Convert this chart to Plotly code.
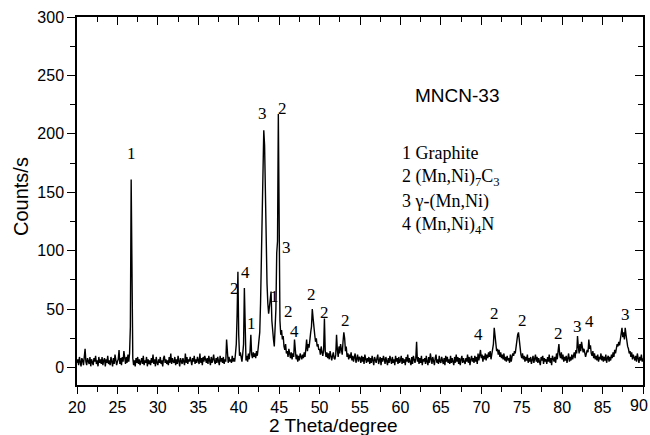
import numpy as np
import plotly.graph_objects as go

# Sampling grid of the XRD scan (2-theta, degrees)
theta_start = 20.0
theta_step = 0.1

# Intensity (counts/s), one row per degree: 20.0..20.9, 21.0..21.9, ...
counts = [
    4, 7, 2, 9, 5, 1, 8, 6, 2, 10,          # 20
    16, 5, 2, 8, 6, 3, 9, 1, 7, 4,          # 21
    2, 8, 5, 10, 3, 6, 1, 9, 4, 7,          # 22
    3, 9, 2, 6, 8, 1, 7, 4, 10, 3,          # 23
    6, 2, 9, 5, 1, 8, 3, 11, 6, 2,          # 24
    5, 7, 15, 3, 8, 2, 9, 5, 14, 6,         # 25
    3, 9, 4, 11, 5, 12, 35, 161, 45, 8,     # 26
    2, 6, 1, 8, 4, 9, 3, 7, 2, 6,           # 27
    8, 3, 10, 2, 6, 4, 9, 1, 7, 3,          # 28
    6, 2, 8, 4, 11, 3, 7, 1, 9, 4,          # 29
    2, 7, 4, 9, 3, 6, 1, 8, 10, 4,          # 30
    7, 3, 6, 2, 9, 4, 12, 3, 8, 5,          # 31
    4, 9, 2, 7, 3, 10, 5, 1, 8, 4,          # 32
    3, 8, 5, 2, 12, 4, 9, 3, 7, 5,          # 33
    9, 4, 2, 8, 5, 10, 3, 7, 4, 9,          # 34
    5, 3, 12, 4, 8, 2, 9, 5, 10, 6,         # 35
    4, 8, 3, 10, 5, 2, 9, 4, 7, 11,         # 36
    5, 3, 8, 4, 9, 6, 2, 10, 5, 8,          # 37
    4, 9, 3, 7, 5, 24, 8, 4, 9, 5,          # 38
    7, 4, 10, 5, 8, 5, 12, 20, 45, 82,      # 39
    28, 10, 13, 7, 5, 12, 20, 68, 15, 6,    # 40
    10, 5, 12, 7, 14, 28, 11, 8, 13, 9,     # 41
    12, 8, 14, 10, 16, 22, 30, 55, 95, 150, # 42
    200, 203, 190, 150, 95, 72, 55, 46, 52, 58,   # 43
    65, 40, 28, 24, 18, 30, 50, 98, 108, 217,     # 44
    60, 40, 28, 32, 24, 27, 18, 15, 20, 12, # 45
    14, 9, 16, 10, 8, 13, 7, 12, 9, 24,     # 46
    12, 7, 11, 5, 10, 6, 12, 8, 7, 11,      # 47
    8, 13, 9, 16, 24, 14, 20, 17, 26, 30,   # 48
    35, 50, 42, 30, 28, 22, 25, 18, 20, 15, # 49
    16, 11, 18, 13, 10, 15, 42, 14, 9, 13,  # 50
    8, 12, 7, 14, 10, 6, 10, 13, 8, 7,      # 51
    11, 28, 15, 9, 18, 12, 20, 16, 11, 22,  # 52
    30, 25, 14, 18, 9, 12, 7, 11, 8, 13,    # 53
    6, 10, 5, 9, 12, 4, 8, 11, 5, 9,        # 54
    8, 4, 10, 5, 9, 3, 11, 7, 4, 8,         # 55
    5, 9, 3, 8, 4, 10, 7, 2, 9, 5,          # 56
    4, 8, 11, 3, 7, 9, 2, 8, 5, 10,         # 57
    7, 3, 9, 5, 2, 8, 4, 10, 7, 3,          # 58
    9, 4, 7, 2, 10, 5, 8, 3, 9, 4,          # 59
    6, 10, 3, 8, 4, 7, 2, 9, 5, 11,         # 60
    4, 8, 5, 2, 9, 3, 10, 7, 4, 8,          # 61
    22, 5, 9, 3, 8, 4, 10, 2, 7, 5,         # 62
    8, 3, 10, 5, 2, 9, 4, 12, 7, 3,         # 63
    9, 5, 2, 8, 11, 4, 7, 3, 10, 5,         # 64
    4, 9, 7, 3, 8, 2, 10, 5, 9, 4,          # 65
    7, 3, 10, 4, 8, 5, 2, 9, 4, 11,         # 66
    5, 9, 3, 8, 2, 7, 10, 4, 8, 5,          # 67
    3, 8, 5, 11, 4, 9, 2, 7, 10, 5,         # 68
    8, 4, 10, 5, 9, 3, 12, 6, 11, 15,       # 69
    8, 11, 5, 10, 7, 12, 6, 11, 8, 13,      # 70
    9, 14, 7, 12, 15, 20, 34, 25, 18, 14,   # 71
    16, 11, 15, 9, 13, 8, 11, 7, 12, 6,     # 72
    9, 5, 10, 6, 8, 4, 11, 5, 9, 12,        # 73
    10, 14, 12, 18, 24, 28, 30, 22, 15, 11, # 74
    8, 12, 7, 10, 5, 9, 6, 11, 4, 8,        # 75
    5, 9, 3, 8, 10, 4, 7, 11, 5, 9,         # 76
    4, 8, 5, 2, 9, 6, 10, 3, 8, 5,          # 77
    7, 3, 9, 5, 11, 4, 8, 2, 10, 6,         # 78
    5, 9, 4, 12, 7, 14, 20, 11, 8, 13,      # 79
    7, 11, 5, 9, 6, 10, 4, 8, 12, 5,        # 80
    9, 6, 11, 7, 10, 13, 8, 15, 12, 27,     # 81
    18, 12, 20, 14, 22, 16, 13, 16, 11, 9,  # 82
    12, 15, 13, 24, 16, 19, 12, 10, 14, 8,  # 83
    12, 7, 10, 6, 11, 5, 9, 7, 12, 6,       # 84
    10, 5, 9, 6, 11, 4, 8, 10, 5, 9,        # 85
    6, 11, 8, 13, 9, 15, 12, 17, 20, 18,    # 86
    22, 19, 25, 28, 34, 26, 30, 24, 34, 28, # 87
    22, 18, 16, 12, 14, 9, 13, 7, 11, 8,    # 88
    6, 10, 5, 12, 7, 4, 9, 6, 11, 5,        # 89
    8,                                      # 90
]

# Phase labels over the peaks: text, 2-theta, height
peak_labels = ["1", "2", "4", "1", "3", "2", "3", "1", "2", "4", "2", "2", "2",
               "4", "2", "2", "2", "3", "4", "3"]
peak_label_x = [26.7, 39.5, 40.82, 41.56, 43.0, 45.44, 45.9, 44.38, 46.1, 46.93,
                49.0, 50.65, 53.2, 69.7, 71.6, 75.1, 79.6, 81.9, 83.35, 87.8]
peak_label_y = [183, 68, 81, 38, 217, 222, 103, 61, 48, 31,
                62.5, 47, 40, 28, 46, 40, 29, 35, 39, 45]

sample_name = "MNCN-33"
legend_lines = ["1 Graphite", "2 (Mn,Ni)<sub>7</sub>C<sub>3</sub>",
                "3 γ-(Mn,Ni)", "4 (Mn,Ni)<sub>4</sub>N"]

x_title = "2 Theta/degree"
y_title = "Counts/s"
x_range = [20, 90]
y_range = [-15, 300]
last_x_tick = "90"

two_theta = np.round(theta_start + theta_step * np.arange(len(counts)), 2)

fig = go.Figure()
fig.add_trace(go.Scatter(x=two_theta, y=counts, mode="lines",
                         line=dict(color="black", width=1.4), showlegend=False,
                         hoverinfo="skip"))
# invisible trace to activate mirrored top/right axes
fig.add_trace(go.Scatter(x=[None], y=[None], xaxis="x2", yaxis="y2",
                         mode="lines", showlegend=False, hoverinfo="skip"))

serif = "Liberation Serif, Times New Roman, serif"
sans = "Liberation Sans, Arial, sans-serif"

annotations = []
for t, xv, yv in zip(peak_labels, peak_label_x, peak_label_y):
    annotations.append(dict(x=xv, y=yv, xref="x", yref="y", text=t, showarrow=False,
                            xanchor="center", yanchor="middle",
                            font=dict(family=serif, size=17, color="black")))

L, R, T, B = 77, 643, 17, 385
W_, H_ = R - L, B - T

def px(xp):
    return (xp - L) / W_

def py(yp):
    return (B - yp) / H_

annotations.append(dict(x=px(457), y=py(95), xref="paper", yref="paper", text=sample_name,
                        showarrow=False, xanchor="center", yanchor="middle",
                        font=dict(family=sans, size=19, color="black")))
for i, line in enumerate(legend_lines):
    annotations.append(dict(x=px(400), y=py(153 + 24 * i), xref="paper", yref="paper",
                            text=line, showarrow=False, xanchor="left", yanchor="middle",
                            font=dict(family=serif, size=18, color="black")))
annotations.append(dict(x=px(333), y=py(425), xref="paper", yref="paper", text=x_title,
                        showarrow=False, xanchor="center", yanchor="middle",
                        font=dict(family=sans, size=19, color="black")))
annotations.append(dict(x=px(21), y=py(197), xref="paper", yref="paper", text=y_title,
                        showarrow=False, xanchor="center", yanchor="middle", textangle=-90,
                        font=dict(family=sans, size=20, color="black")))
# last x tick label sits at the right edge of the figure (cut by the edge in the original)
annotations.append(dict(x=px(650), y=py(405), xref="paper", yref="paper", text=last_x_tick,
                        showarrow=False, xanchor="right", yanchor="middle",
                        font=dict(family=sans, size=16, color="black")))

axis_common = dict(showgrid=False, zeroline=False, showline=True, linecolor="black",
                   linewidth=1.5, tickcolor="black", tickwidth=1.2)

fig.update_layout(
    width=650, height=435,
    margin=dict(l=L, r=650 - R, t=T, b=435 - B),
    paper_bgcolor="white", plot_bgcolor="white",
    xaxis=dict(range=x_range, tick0=20, dtick=5, ticks="outside", ticklen=7,
               minor=dict(dtick=2.5, ticks="outside", ticklen=5, tickcolor="black"),
               tickfont=dict(family=sans, size=16, color="black"), **axis_common),
    yaxis=dict(range=y_range, tick0=0, dtick=50, ticks="outside", ticklen=8,
               minor=dict(dtick=25, ticks="outside", ticklen=5, tickcolor="black"),
               tickfont=dict(family=sans, size=16, color="black"), **axis_common),
    xaxis2=dict(range=x_range, overlaying="x", side="top", tick0=20, dtick=5,
                ticks="inside", ticklen=8, showticklabels=False,
                minor=dict(dtick=2.5, ticks="inside", ticklen=5, tickcolor="black"),
                **axis_common),
    yaxis2=dict(range=y_range, overlaying="y", side="right", tick0=0, dtick=50,
                ticks="inside", ticklen=8, showticklabels=False,
                minor=dict(dtick=25, ticks="inside", ticklen=5, tickcolor="black"),
                **axis_common),
    annotations=annotations,
)

fig.write_html("out.html")
